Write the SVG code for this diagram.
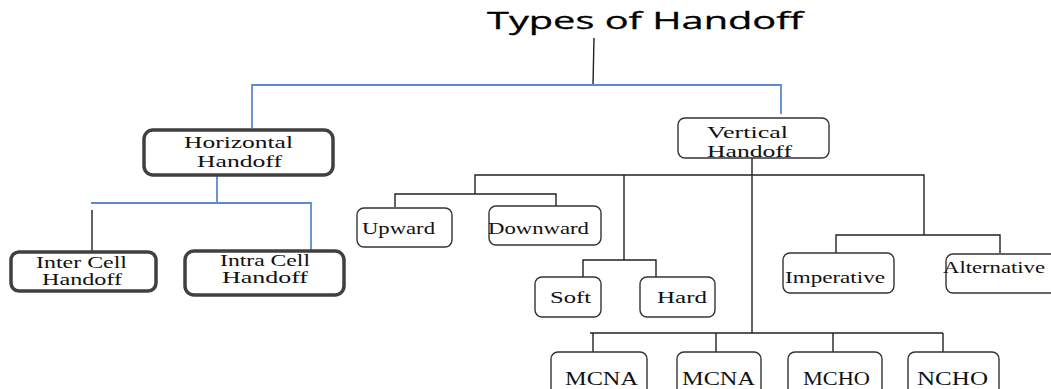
<svg xmlns="http://www.w3.org/2000/svg" width="1051" height="389" viewBox="0 0 1051 389">
<style>
.bg{fill:#ffffff}
.thick{fill:#fff;stroke:#404040;stroke-width:3.5}
.thin{fill:#fff;stroke:#333;stroke-width:1.4}
.lbl{font-family:"Liberation Serif","Times New Roman",serif;font-size:17px;fill:#111}
.big{font-family:"Liberation Serif","Times New Roman",serif;font-size:19px;fill:#111}
.title{font-family:"Open Sans","Liberation Sans",Arial,sans-serif;font-size:24px;fill:#000;stroke:#000;stroke-width:0.3}
.blue{stroke:#5b8ad0;stroke-width:1.8;fill:none}
.blk{stroke:#222;stroke-width:1.4;fill:none}
</style>
<rect class="bg" x="0" y="0" width="1051" height="389"/>
<g id="title">
<text class="title" x="487" y="29" textLength="316" lengthAdjust="spacingAndGlyphs">Types of Handoff</text>
</g>
<g id="connectors">
<path class="blk" d="M594 38 L593 85"/>
<path class="blue" d="M252 128 L252 85 L781 85 L781 114"/>
<path class="blue" d="M217 176 L217 203 M91 203 L311 203 L311 252"/>
<path class="blk" d="M92 210 L92 251"/>
<path class="blk" d="M752 158 L752 333"/>
<path class="blk" d="M475 194 L475 175 L924 175 L924 235"/>
<path class="blk" d="M395 207 L395 194 L556 194 L556 207"/>
<path class="blk" d="M624 175 L624 260 M583 277 L583 260 L656 260 L656 277"/>
<path class="blk" d="M836 253 L836 235 L1000 235 L1000 253"/>
<path class="blk" d="M590 333 L943 333 M593 333 L593 352 M716 333 L716 352 M833 333 L833 352 M943 333 L943 352"/>
</g>
<g id="horizontal">
<rect class="thick" x="144" y="130" width="189" height="45" rx="9"/>
<text class="lbl" x="184" y="148" textLength="109" lengthAdjust="spacingAndGlyphs">Horizontal</text>
<text class="lbl" x="197" y="167" textLength="85" lengthAdjust="spacingAndGlyphs">Handoff</text>
</g>
<g id="inter">
<rect class="thick" x="11" y="252" width="145" height="39" rx="8"/>
<text class="lbl" x="36" y="268" textLength="91" lengthAdjust="spacingAndGlyphs">Inter Cell</text>
<text class="lbl" x="42" y="285" textLength="80" lengthAdjust="spacingAndGlyphs">Handoff</text>
</g>
<g id="intra">
<rect class="thick" x="185" y="251" width="159" height="44" rx="9"/>
<text class="lbl" x="220" y="266" textLength="90" lengthAdjust="spacingAndGlyphs">Intra Cell</text>
<text class="lbl" x="222" y="283" textLength="86" lengthAdjust="spacingAndGlyphs">Handoff</text>
</g>
<g id="vertical">
<rect class="thin" x="678" y="118" width="151" height="40" rx="7"/>
<text class="lbl" x="707" y="138" textLength="81" lengthAdjust="spacingAndGlyphs">Vertical</text>
<text class="lbl" x="707" y="157" textLength="85" lengthAdjust="spacingAndGlyphs">Handoff</text>
</g>
<g id="upward">
<rect class="thin" x="357" y="208" width="95" height="39" rx="7"/>
<text class="lbl" x="362" y="234" textLength="73" lengthAdjust="spacingAndGlyphs">Upward</text>
</g>
<g id="downward">
<rect class="thin" x="489" y="206" width="112" height="39" rx="7"/>
<text class="lbl" x="488" y="234" textLength="101" lengthAdjust="spacingAndGlyphs">Downward</text>
</g>
<g id="soft">
<rect class="thin" x="535" y="277" width="66" height="40" rx="7"/>
<text class="lbl" x="550" y="303" textLength="41" lengthAdjust="spacingAndGlyphs">Soft</text>
</g>
<g id="hard">
<rect class="thin" x="640" y="277" width="75" height="40" rx="7"/>
<text class="lbl" x="657" y="303" textLength="50" lengthAdjust="spacingAndGlyphs">Hard</text>
</g>
<g id="imperative">
<rect class="thin" x="783" y="253" width="111" height="40" rx="7"/>
<text class="lbl" x="785" y="283" textLength="100" lengthAdjust="spacingAndGlyphs">Imperative</text>
</g>
<g id="alternative">
<rect class="thin" x="946" y="254" width="120" height="39" rx="7"/>
<text class="lbl" x="943" y="273" textLength="102" lengthAdjust="spacingAndGlyphs">Alternative</text>
</g>
<g id="mcna1">
<rect class="thin" x="551" y="352" width="96" height="60" rx="7"/>
<text class="big" x="565" y="385" textLength="73" lengthAdjust="spacingAndGlyphs">MCNA</text>
</g>
<g id="mcna2">
<rect class="thin" x="677" y="352" width="84" height="60" rx="7"/>
<text class="big" x="682" y="385" textLength="73" lengthAdjust="spacingAndGlyphs">MCNA</text>
</g>
<g id="mcho">
<rect class="thin" x="788" y="352" width="94" height="60" rx="7"/>
<text class="big" x="803" y="385" textLength="67" lengthAdjust="spacingAndGlyphs">MCHO</text>
</g>
<g id="ncho">
<rect class="thin" x="908" y="352" width="91" height="60" rx="7"/>
<text class="big" x="917" y="385" textLength="71" lengthAdjust="spacingAndGlyphs">NCHO</text>
</g>
</svg>
